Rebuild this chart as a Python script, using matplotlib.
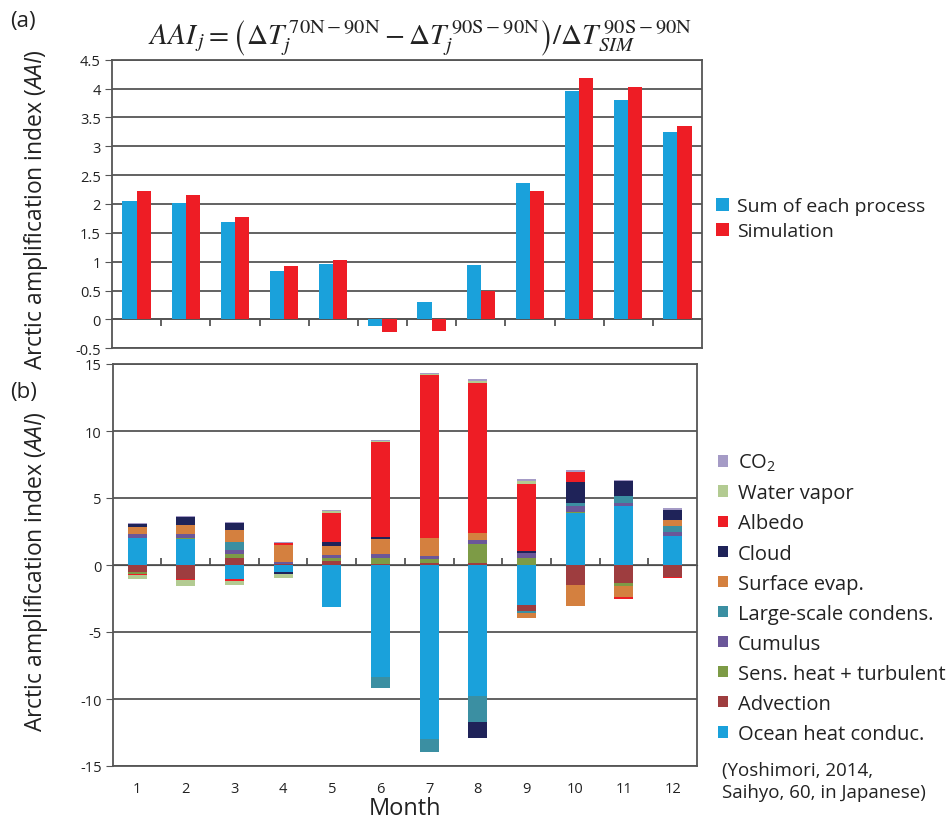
import numpy as np
import matplotlib
matplotlib.use("Agg")
import matplotlib.pyplot as plt
from matplotlib.patches import Patch

plt.rcParams["font.family"] = ["Open Sans", "DejaVu Sans"]
plt.rcParams["mathtext.fontset"] = "custom"
plt.rcParams["mathtext.rm"] = "Open Sans"
plt.rcParams["mathtext.it"] = "Open Sans:italic"
plt.rcParams["mathtext.bf"] = "Open Sans:bold"

# ---- data ----
months = [1, 2, 3, 4, 5, 6, 7, 8, 9, 10, 11, 12]

# (a) Arctic amplification index per month
sum_of_processes = [2.06, 2.01, 1.68, 0.84, 0.96, -0.11, 0.30, 0.94, 2.37, 3.96, 3.81, 3.24]
simulation = [2.23, 2.15, 1.78, 0.92, 1.03, -0.21, -0.20, 0.50, 2.23, 4.18, 4.03, 3.36]

# (b) contribution of each process (stacking order: first = nearest zero)
ocean_heat = [2.04, 1.94, -1.04, -0.52, -3.11, -8.38, -12.99, -9.80, -2.96, 3.88, 4.38, 2.19]
advection = [-0.52, -1.02, 0.52, 0.05, 0.32, 0.10, 0.12, 0.15, -0.47, -1.49, -1.34, -0.90]
sens_heat = [-0.12, 0.05, 0.27, 0.0, 0.17, 0.45, 0.32, 1.39, 0.50, 0.05, -0.20, 0.0]
cumulus = [0.27, 0.30, 0.32, 0.17, 0.27, 0.27, 0.20, 0.32, 0.42, 0.47, 0.27, 0.25]
large_scale = [0.0, 0.0, 0.62, 0.0, 0.0, -0.80, -1.00, -1.89, -0.12, 0.20, 0.47, 0.47]
surface_evap = [0.52, 0.72, 0.87, 1.30, 0.67, 1.14, 1.34, 0.52, -0.42, -1.59, -0.87, 0.47]
cloud = [0.25, 0.55, 0.57, -0.15, 0.27, 0.10, 0.03, -1.24, 0.15, 1.57, 1.14, 0.72]
albedo = [-0.07, -0.10, -0.17, 0.12, 2.20, 7.14, 12.14, 11.19, 4.98, 0.75, -0.10, -0.05]
water_vapor = [-0.32, -0.47, -0.27, -0.30, 0.12, 0.07, 0.10, 0.17, 0.22, 0.05, 0.0, 0.0]
co2 = [0.07, 0.10, 0.05, 0.08, 0.10, 0.05, 0.07, 0.12, 0.12, 0.12, 0.10, 0.12]

processes = [
    ("Ocean heat conduc.", ocean_heat, "#1aa1db"),
    ("Advection", advection, "#9e3d3f"),
    ("Sens. heat + turbulent", sens_heat, "#7d9b46"),
    ("Cumulus", cumulus, "#6b5799"),
    ("Large-scale condens.", large_scale, "#3b8fa2"),
    ("Surface evap.", surface_evap, "#d4803f"),
    ("Cloud", cloud, "#1f2359"),
    ("Albedo", albedo, "#ee1d25"),
    ("Water vapor", water_vapor, "#b3cb92"),
    ("CO$_2$", co2, "#a59bc6"),
]

BLUE = "#1aa1db"
RED = "#ee1d25"
GRID = "#555555"
TEXT = "#222222"

fig = plt.figure(figsize=(9.52, 8.2), dpi=100)
ax_a = fig.add_axes([112 / 952, 1 - 349.3 / 820, 590 / 952, 288.6 / 820])
ax_b = fig.add_axes([112.7 / 952, 1 - 767 / 820, 584.3 / 952, 402 / 820])

x = np.array(months, dtype=float)
boundaries = x[:-1] + 0.5


def style_axes(ax, ylim, yticks, ylabels):
    ax.set_xlim(0.5, 12.5)
    ax.set_ylim(*ylim)
    ax.set_yticks(yticks, labels=ylabels)
    ax.yaxis.grid(True, color=GRID, linewidth=1.3)
    ax.set_axisbelow(True)
    for s in ax.spines.values():
        s.set_color(GRID)
        s.set_linewidth(1.3)
    ax.tick_params(axis="y", direction="out", length=5, color=GRID,
                   labelsize=10.5, labelcolor=TEXT, pad=3)
    # zero line carrying the category boundary ticks
    loc = (0 - ylim[0]) / (ylim[1] - ylim[0])
    sec = ax.secondary_xaxis(loc)
    sec.set_xticks(boundaries, labels=[])
    sec.tick_params(direction="out", length=5, color=GRID, width=1.3)
    sec.spines["bottom"].set_color(GRID)
    sec.spines["bottom"].set_linewidth(1.3)


YLABEL = "Arctic amplification index ($\\mathit{AAI}$)"

# ---- panel (a) ----
bw = 0.287
ax_a.bar(x - bw / 2, sum_of_processes, width=bw, color=BLUE, label="Sum of each process", zorder=3)
ax_a.bar(x + bw / 2, simulation, width=bw, color=RED, label="Simulation", zorder=3)
a_ticks = np.arange(-0.5, 4.51, 0.5)
style_axes(ax_a, (-0.5, 4.5), a_ticks, [f"{t:g}" for t in a_ticks])
ax_a.set_xticks([])
ax_a.set_ylabel(YLABEL, fontsize=16.5, color=TEXT)
ax_a.yaxis.set_label_coords(-0.105, 0.483)

# ---- panel (b) ----
pos_bottom = np.zeros(len(months))
neg_bottom = np.zeros(len(months))
handles = []
for name, vals, color in processes:
    v = np.array(vals, dtype=float)
    pos = np.where(v > 0, v, 0.0)
    neg = np.where(v < 0, v, 0.0)
    ax_b.bar(x, pos, bottom=pos_bottom, width=0.39, color=color, zorder=3)
    ax_b.bar(x, neg, bottom=neg_bottom, width=0.39, color=color, zorder=3)
    pos_bottom += pos
    neg_bottom += neg
    handles.append(Patch(facecolor=color, label=name))

b_ticks = np.arange(-15, 16, 5)
style_axes(ax_b, (-15, 15), b_ticks, [f"{t:g}" for t in b_ticks])
ax_b.set_xticks(x, labels=[str(m) for m in months])
ax_b.tick_params(axis="x", length=0, labelsize=10.5, labelcolor=TEXT, pad=11)
ax_b.set_xlabel("Month", fontsize=17, color=TEXT, labelpad=0)
ax_b.set_ylabel(YLABEL, fontsize=16.5, color=TEXT)
ax_b.yaxis.set_label_coords(-0.108, 0.485)

# ---- legends and annotations ----
h_a, l_a = ax_a.get_legend_handles_labels()
fig.legend(handles=h_a, labels=l_a,
           loc="upper left", bbox_to_anchor=(716 / 952, 1 - 198 / 820),
           frameon=False, fontsize=14, handlelength=0.65, handleheight=0.65,
           handletextpad=0.45, labelspacing=0.36, borderaxespad=0, borderpad=0,
           labelcolor=TEXT)

fig.legend(handles=handles[::-1], loc="upper left",
           bbox_to_anchor=(718 / 952, 1 - 453 / 820), frameon=False, fontsize=14.5,
           handlelength=0.5, handleheight=0.5, handletextpad=0.5,
           labelspacing=0.5, borderaxespad=0, borderpad=0, labelcolor=TEXT)

fig.text(722 / 952, 1 - 762 / 820, "(Yoshimori, 2014,\nSaihyo, 60, in Japanese)",
         fontsize=13.5, color=TEXT, ha="left", va="top", linespacing=1.3)

fig.text(10 / 952, 1 - 22 / 820, "(a)", fontsize=16, color=TEXT, va="center")
fig.text(10 / 952, 1 - 393 / 820, "(b)", fontsize=16, color=TEXT, va="center")

formula = (r"$AAI_{\,j} = \left(\Delta T_j^{\,70\mathrm{N}-90\mathrm{N}}"
           r" - \Delta T_j^{\,90\mathrm{S}-90\mathrm{N}}\right) / "
           r"\Delta T_{SIM}^{\,90\mathrm{S}-90\mathrm{N}}$")
fig.text(420 / 952, 1 - 38 / 820, formula, fontsize=21, color=TEXT,
         ha="center", va="center", math_fontfamily="stix")

fig.savefig("out.png", dpi=100)
